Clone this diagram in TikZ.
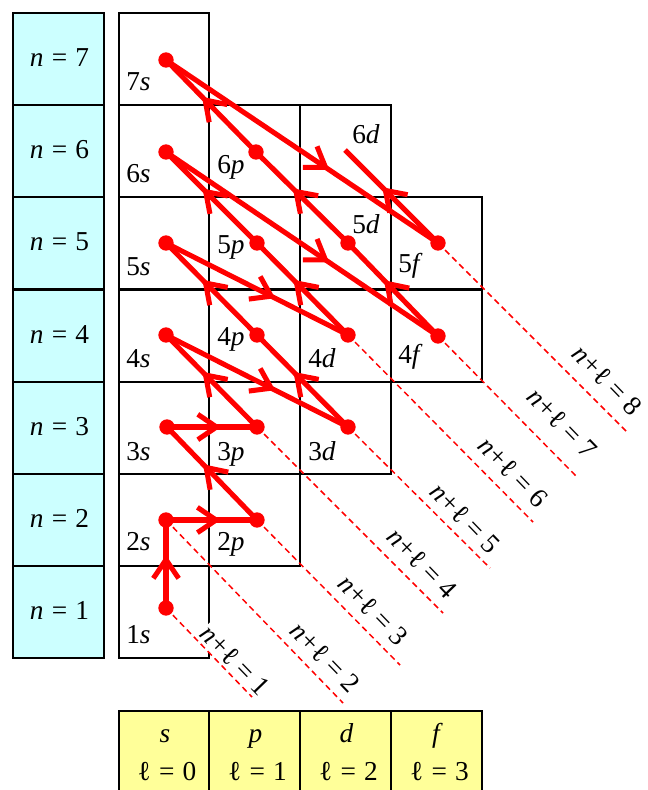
\documentclass[tikz,border=0pt]{standalone}
\usepackage{fontspec}
\setmainfont{Liberation Serif}
\usetikzlibrary{arrows.meta,decorations.markings}
\definecolor{cyanbox}{HTML}{CCFFFF}
\definecolor{yellowbox}{HTML}{FFFF99}
\tikzset{
  gridline/.style={draw=black, line width=1.9pt},
  cyancell/.style={gridline, fill=cyanbox},
  yelcell/.style={gridline, fill=yellowbox},
  conn/.style={draw=red, line width=3.8pt, postaction={decorate},
    decoration={markings, mark=at position 0.6 with {\arrow{Straight Barb[length=14pt,width=19pt]}}}},
  dot/.style={circle, fill=red, inner sep=0pt, minimum size=11.5pt},
  sumline/.style={draw=red, line width=1.1pt, dash pattern=on 4.5pt off 3pt},
  bigfont/.style={font=\fontsize{20.5}{24}\selectfont},
  orb/.style={bigfont, anchor=base west, inner sep=0pt},
  sumlab/.style={bigfont, rotate=-46, fill=white, inner xsep=1pt, inner ysep=3pt},
  nlab/.style={bigfont, anchor=base, inner sep=0pt}
}
\newcommand{\eqsp}{\hspace{0.3em}=\hspace{0.3em}}
\newcommand{\sumtxt}[1]{\textit{n}\kern0.5pt+\kern0.5pt ℓ\hspace{0.25em}=\hspace{0.25em}#1}
\begin{document}
\begin{tikzpicture}[x=0.75pt,y=-0.75pt]
\useasboundingbox (0,0) rectangle (648,790);
% left n column
\foreach \n/\t in {7/13,6/105,5/197,4/290,3/382,2/474,1/566}{
  \draw[cyancell] (13,\t) rectangle (104,\t+92);
  \node[nlab] (nl\n) at (59.5,\t+53) {\textit{n}\eqsp\n};
}
% main grid
\foreach \t in {13,105,197,290,382,474,566}{\draw[gridline] (119,\t) rectangle (209,\t+92);}
\foreach \t in {105,197,290,382,474}{\draw[gridline] (209,\t) rectangle (300,\t+92);}
\foreach \t in {105,197,290,382}{\draw[gridline] (300,\t) rectangle (391,\t+92);}
\foreach \t in {197,290}{\draw[gridline] (391,\t) rectangle (482,\t+92);}
% bottom l boxes
\foreach \a/\b/\c/\l/\k in {119/209/s/0/s,209/300/p/1/p,300/391/d/2/d,391/482/f/3/f}{
  \draw[yelcell] (\a,711) rectangle (\b,800);
  \node[nlab] (lt\k) at ({(\a+\b)/2+1},742) {\textit{\c}};
  \node[nlab] (lv\k) at ({(\a+\b)/2+3},780) {ℓ\eqsp\l};
}
% n + l labels
\node[sumlab] (L1) at (235,660) {\sumtxt{1}};
\node[sumlab] (L2) at (325,657) {\sumtxt{2}};
\node[sumlab] (L3) at (373,610) {\sumtxt{3}};
\node[sumlab] (L4) at (422,563) {\sumtxt{4}};
\node[sumlab] (L5) at (465,518) {\sumtxt{5}};
\node[sumlab] (L6) at (513,472) {\sumtxt{6}};
\node[sumlab] (L7) at (562,423) {\sumtxt{7}};
\node[sumlab] (L8) at (607,380) {\sumtxt{8}};
% dots
\node[dot] (s1) at (166,608) {};
\node[dot] (s2) at (166,520) {};
\node[dot] (p2) at (257,520) {};
\node[dot] (s3) at (167,427) {};
\node[dot] (p3) at (257,427) {};
\node[dot] (d3) at (348,427) {};
\node[dot] (s4) at (166,335) {};
\node[dot] (p4) at (257,335) {};
\node[dot] (d4) at (348,335) {};
\node[dot] (f4) at (438,336) {};
\node[dot] (s5) at (166,243) {};
\node[dot] (p5) at (257,243) {};
\node[dot] (d5) at (348,243) {};
\node[dot] (f5) at (438,243) {};
\node[dot] (s6) at (166,152) {};
\node[dot] (p6) at (256,152) {};
\node[dot] (s7) at (166,60) {};
\coordinate (d6) at (345,150);
% dashed end points
\coordinate (e1) at (252,697);
\coordinate (e2) at (343,703);
\coordinate (e3) at (400,665);
\coordinate (e4) at (443,613);
\coordinate (e5) at (490,568);
\coordinate (e6) at (533,522);
\coordinate (e7) at (577,477);
\coordinate (e8) at (627,432);
\draw[sumline] (s1.center) -- (e1);
\draw[sumline] (s2.center) -- (e2);
\draw[sumline] (p2.center) -- (e3);
\draw[sumline] (p3.center) -- (e4);
\draw[sumline] (d3.center) -- (e5);
\draw[sumline] (d4.center) -- (e6);
\draw[sumline] (f4.center) -- (e7);
\draw[sumline] (f5.center) -- (e8);
% filling order connectors
\draw[conn] (s1.center) -- (s2.center);
\draw[conn] (s2.center) -- (p2.center);
\draw[conn] (p2.center) -- (s3.center);
\draw[conn] (s3.center) -- (p3.center);
\draw[conn] (p3.center) -- (s4.center);
\draw[conn] (s4.center) -- (d3.center);
\draw[conn] (d3.center) -- (p4.center);
\draw[conn] (p4.center) -- (s5.center);
\draw[conn] (s5.center) -- (d4.center);
\draw[conn] (d4.center) -- (p5.center);
\draw[conn] (p5.center) -- (s6.center);
\draw[conn] (s6.center) -- (f4.center);
\draw[conn] (f4.center) -- (d5.center);
\draw[conn] (d5.center) -- (p6.center);
\draw[conn] (p6.center) -- (s7.center);
\draw[conn] (s7.center) -- (f5.center);
\draw[conn] (f5.center) -- (d6);
% orbital labels
\node[orb] (t7s) at (126,90) {7\textit{s}};
\node[orb] (t6s) at (126,182) {6\textit{s}};
\node[orb] (t5s) at (126,275) {5\textit{s}};
\node[orb] (t4s) at (126,367) {4\textit{s}};
\node[orb] (t3s) at (126,460) {3\textit{s}};
\node[orb] (t2s) at (126,550) {2\textit{s}};
\node[orb] (t1s) at (126,643) {1\textit{s}};
\node[orb] (t6p) at (217,173) {6\textit{p}};
\node[orb] (t5p) at (217,253) {5\textit{p}};
\node[orb] (t4p) at (217,345) {4\textit{p}};
\node[orb] (t3p) at (217,460) {3\textit{p}};
\node[orb] (t2p) at (217,550) {2\textit{p}};
\node[orb] (t6d) at (352,143) {6\textit{d}};
\node[orb] (t5d) at (352,233) {5\textit{d}};
\node[orb] (t4d) at (308,367) {4\textit{d}};
\node[orb] (t3d) at (308,460) {3\textit{d}};
\node[orb] (t5f) at (398,272) {5\textit{f}};
\node[orb] (t4f) at (398,363) {4\textit{f}};
\end{tikzpicture}
\end{document}
